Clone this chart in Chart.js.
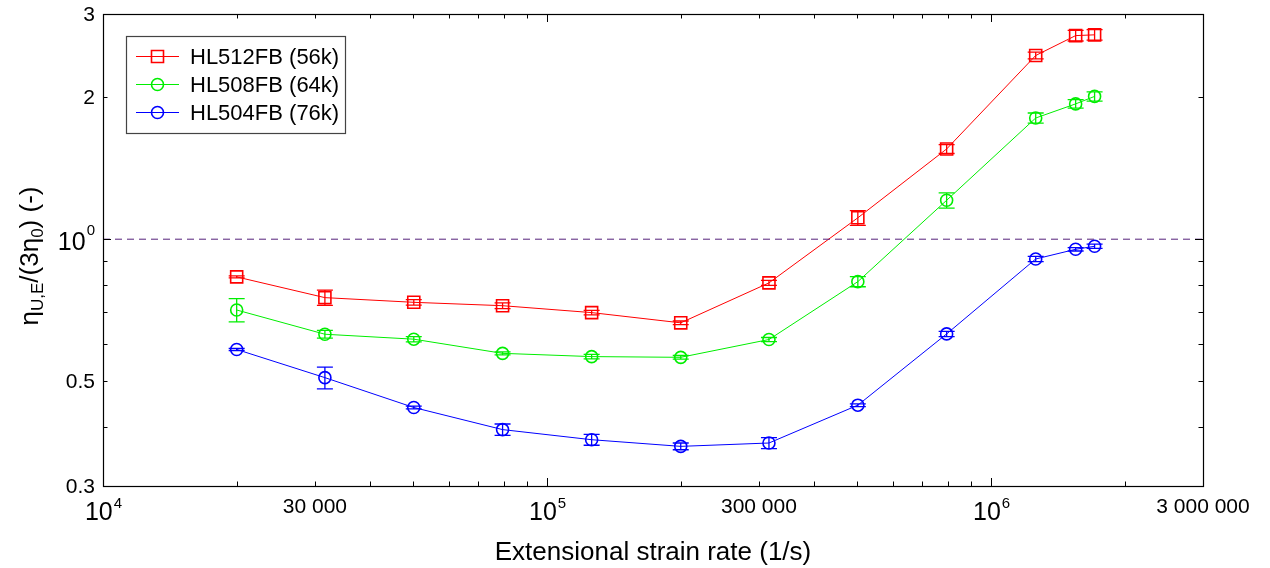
<!DOCTYPE html>
<html>
<head>
<meta charset="utf-8">
<script src="https://cdn.jsdelivr.net/npm/chart.js@4/dist/chart.umd.min.js"></script>
<style>
html,body{margin:0;padding:0;background:#fff;}
#wrap{width:1270px;height:568px;position:relative;}
</style>
</head>
<body>
<div id="wrap"><canvas id="c" width="1270" height="568"></canvas></div>
<script>
// ---------------- data ----------------
const strainRates = [20000, 31600, 50100, 79400, 126000, 200000, 316000, 501000, 794000, 1260000, 1550000, 1710000];

const hl512Label = 'HL512FB (56k)';
const hl512Values = [0.832, 0.752, 0.735, 0.723, 0.699, 0.665, 0.808, 1.11, 1.553, 2.45, 2.70, 2.71];
const hl512Err    = [0.004, 0.028, 0.010, 0.010, 0.008, 0.006, 0.010, 0.040, 0.034, 0.040, 0.070, 0.070];

const hl508Label = 'HL508FB (64k)';
const hl508Values = [0.708, 0.629, 0.614, 0.573, 0.564, 0.562, 0.613, 0.813, 1.209, 1.806, 1.935, 2.007];
const hl508Err    = [0.040, 0.012, 0.008, 0.004, 0.006, 0.005, 0.006, 0.020, 0.045, 0.045, 0.040, 0.045];

const hl504Label = 'HL504FB (76k)';
const hl504Values = [0.584, 0.509, 0.440, 0.395, 0.376, 0.364, 0.370, 0.445, 0.630, 0.908, 0.952, 0.966];
const hl504Err    = [0.003, 0.027, 0.003, 0.011, 0.010, 0.006, 0.010, 0.003, 0.008, 0.012, 0.008, 0.010];

const referenceLevel = 1;

const xTickValues = [10000, 20000, 30000, 40000, 50000, 60000, 70000, 80000, 90000,
                     100000, 200000, 300000, 400000, 500000, 600000, 700000, 800000, 900000,
                     1000000, 2000000, 3000000];
const xMajorTicks = [10000, 100000, 1000000];
const xLabelValues = [10000, 30000, 100000, 300000, 1000000, 3000000];
const xLabelTexts  = ['10^4', '30 000', '10^5', '300 000', '10^6', '3 000 000'];

const yTickValues = [0.3, 0.4, 0.5, 0.6, 0.7, 0.8, 0.9, 1, 2, 3];
const yMajorTicks = [1];
const yLabelValues = [0.3, 0.5, 1, 2, 3];
const yLabelTexts  = ['0.3', '0.5', '10^0', '2', '3'];

const xTitle = 'Extensional strain rate (1/s)';
// y title parts: [text, isSubscript]
const yTitleParts = [['η', false], ['U,E', true], ['/(3η', false], ['0', true], [')', false], [' (-)', false]];

// ---------------- styling ----------------
const FONT = "'Liberation Sans', Arial, Helvetica, sans-serif";
const RED = '#ff0000', GREEN = '#00ee00', BLUE = '#0000ff';

const series = [
  {label: hl512Label, values: hl512Values, err: hl512Err, color: RED, style: 'rect'},
  {label: hl508Label, values: hl508Values, err: hl508Err, color: GREEN, style: 'circle'},
  {label: hl504Label, values: hl504Values, err: hl504Err, color: BLUE, style: 'circle'}
];

const datasets = series.map(s => ({
  label: s.label,
  data: strainRates.map((x, i) => ({x: x, y: s.values[i]})),
  borderColor: s.color,
  backgroundColor: 'rgba(0,0,0,0)',
  borderWidth: 1,
  pointStyle: s.style,
  pointRadius: s.style === 'rect' ? 8.5 : 6,
  pointBorderWidth: 1.6,
  pointBorderColor: s.color,
  pointBackgroundColor: 'rgba(0,0,0,0)',
  tension: 0,
  fill: false
}));

datasets.unshift({
  label: 'ref',
  data: [{x: 10000, y: referenceLevel}, {x: 3000000, y: referenceLevel}],
  borderColor: '#55207a',
  borderWidth: 1,
  borderDash: [7, 5],
  pointRadius: 0,
  fill: false
});

function splitSup(text) {
  const idx = text.indexOf('^');
  if (idx < 0) return null;
  return {base: text.slice(0, idx), sup: text.slice(idx + 1)};
}

const errorBarPlugin = {
  id: 'errorBars',
  afterDatasetsDraw(chart) {
    const ctx = chart.ctx, xs = chart.scales.x, ys = chart.scales.y;
    series.forEach(s => {
      ctx.save();
      ctx.strokeStyle = s.color;
      ctx.lineWidth = 1.3;
      strainRates.forEach((xv, i) => {
        const px = xs.getPixelForValue(xv);
        const yt = ys.getPixelForValue(s.values[i] + s.err[i]);
        const yb = ys.getPixelForValue(s.values[i] - s.err[i]);
        ctx.beginPath();
        ctx.moveTo(px, yt); ctx.lineTo(px, yb);
        ctx.moveTo(px - 8, yt); ctx.lineTo(px + 8, yt);
        ctx.moveTo(px - 8, yb); ctx.lineTo(px + 8, yb);
        ctx.stroke();
      });
      ctx.restore();
    });
  }
};

const axesPlugin = {
  id: 'axesFrame',
  afterDraw(chart) {
    const ctx = chart.ctx, a = chart.chartArea, xs = chart.scales.x, ys = chart.scales.y;
    ctx.save();
    ctx.strokeStyle = '#000';
    ctx.lineWidth = 1.2;
    ctx.strokeRect(Math.round(a.left) + 0.5, Math.round(a.top) + 0.5,
                   Math.round(a.right - a.left), Math.round(a.bottom - a.top));
    // ticks
    ctx.lineWidth = 1;
    ctx.beginPath();
    xTickValues.forEach(v => {
      const px = Math.round(xs.getPixelForValue(v)) + 0.5;
      const len = xMajorTicks.includes(v) ? 8 : 4.5;
      ctx.moveTo(px, a.bottom); ctx.lineTo(px, a.bottom - len);
      ctx.moveTo(px, a.top); ctx.lineTo(px, a.top + len);
    });
    yTickValues.forEach(v => {
      const py = Math.round(ys.getPixelForValue(v)) + 0.5;
      const len = yMajorTicks.includes(v) ? 8 : 4.5;
      ctx.moveTo(a.left, py); ctx.lineTo(a.left + len, py);
      ctx.moveTo(a.right, py); ctx.lineTo(a.right - len, py);
    });
    ctx.stroke();

    ctx.fillStyle = '#000';
    // x labels
    xLabelValues.forEach((v, i) => {
      const px = xs.getPixelForValue(v);
      const t = xLabelTexts[i];
      const sp = splitSup(t);
      if (sp) {
        ctx.font = '25px ' + FONT;
        const wb = ctx.measureText(sp.base).width;
        ctx.font = '15px ' + FONT;
        const ws = ctx.measureText(sp.sup).width;
        const x0 = px - (wb + ws) / 2;
        ctx.textAlign = 'left'; ctx.textBaseline = 'alphabetic';
        ctx.font = '25px ' + FONT;
        ctx.fillText(sp.base, x0, a.bottom + 34);
        ctx.font = '15px ' + FONT;
        ctx.fillText(sp.sup, x0 + wb + 1, a.bottom + 22);
      } else {
        ctx.font = '21px ' + FONT;
        ctx.textAlign = 'center'; ctx.textBaseline = 'alphabetic';
        ctx.fillText(t, px, a.bottom + 27);
      }
    });
    // y labels
    yLabelValues.forEach((v, i) => {
      const py = ys.getPixelForValue(v);
      const t = yLabelTexts[i];
      const sp = splitSup(t);
      const xr = a.left - 8;
      if (sp) {
        ctx.font = '15px ' + FONT;
        const ws = ctx.measureText(sp.sup).width;
        ctx.textAlign = 'right'; ctx.textBaseline = 'alphabetic';
        ctx.fillText(sp.sup, xr, py - 4);
        ctx.font = '25px ' + FONT;
        ctx.fillText(sp.base, xr - ws - 1, py + 11);
      } else {
        ctx.font = '21px ' + FONT;
        ctx.textAlign = 'right'; ctx.textBaseline = 'alphabetic';
        ctx.fillText(t, xr, py + 7);
      }
    });

    // x title
    ctx.font = '26px ' + FONT;
    ctx.textAlign = 'center'; ctx.textBaseline = 'alphabetic';
    ctx.fillText(xTitle, (a.left + a.right) / 2, 560);

    // y title (rotated)
    ctx.save();
    ctx.translate(38, (a.top + a.bottom) / 2 + 6);
    ctx.rotate(-Math.PI / 2);
    let total = 0;
    const widths = yTitleParts.map(p => {
      ctx.font = (p[1] ? '17px ' : '26px ') + FONT;
      const w = ctx.measureText(p[0]).width;
      total += w;
      return w;
    });
    let cx = -total / 2;
    ctx.textAlign = 'left';
    yTitleParts.forEach((p, i) => {
      ctx.font = (p[1] ? '17px ' : '26px ') + FONT;
      ctx.fillText(p[0], cx, p[1] ? 5 : 0);
      cx += widths[i];
    });
    ctx.restore();

    // legend
    const lx = 126, ly = 36, lw = 219, lh = 97;
    ctx.fillStyle = '#fff';
    ctx.fillRect(lx, ly, lw, lh);
    ctx.strokeStyle = '#444';
    ctx.lineWidth = 1.2;
    ctx.strokeRect(lx + 0.5, ly + 0.5, lw, lh);
    const rows = [56.5, 84.5, 112.5];
    series.forEach((s, i) => {
      const y = rows[i];
      ctx.strokeStyle = s.color;
      ctx.lineWidth = 1;
      ctx.beginPath(); ctx.moveTo(136, y); ctx.lineTo(179, y); ctx.stroke();
      ctx.lineWidth = 1.6;
      ctx.beginPath();
      if (s.style === 'rect') ctx.rect(151.5, y - 6, 12, 12);
      else ctx.arc(157.5, y, 6, 0, Math.PI * 2);
      ctx.stroke();
      ctx.fillStyle = '#000';
      ctx.font = '22px ' + FONT;
      ctx.textAlign = 'left'; ctx.textBaseline = 'middle';
      ctx.fillText(s.label, 190, y + 1);
    });
    ctx.restore();
  }
};

new Chart(document.getElementById('c'), {
  type: 'line',
  data: {datasets: datasets},
  options: {
    responsive: false,
    animation: false,
    devicePixelRatio: 1,
    events: [],
    layout: {padding: {left: 103, right: 67, top: 14, bottom: 82}},
    plugins: {legend: {display: false}, tooltip: {enabled: false}, title: {display: false}},
    scales: {
      x: {type: 'logarithmic', min: 10000, max: 3000000, display: false},
      y: {type: 'logarithmic', min: 0.3, max: 3, display: false}
    }
  },
  plugins: [errorBarPlugin, axesPlugin]
});
</script>
</body>
</html>
